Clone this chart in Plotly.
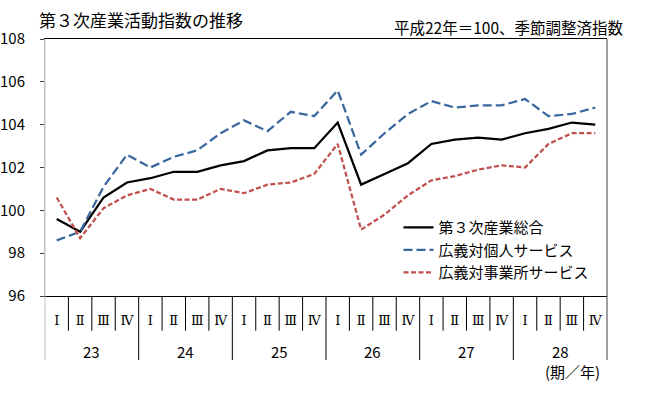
import plotly.graph_objects as go

years = ["23", "24", "25", "26", "27", "28"]
quarters = ["Ⅰ", "Ⅱ", "Ⅲ", "Ⅳ"]
total = [99.6, 99.0, 100.6, 101.3, 101.5, 101.8, 101.8, 102.1, 102.3, 102.8, 102.9, 102.9,
         104.1, 101.2, 101.7, 102.2, 103.1, 103.3, 103.4, 103.3, 103.6, 103.8, 104.1, 104.0]
personal = [98.6, 99.0, 101.1, 102.6, 102.0, 102.5, 102.8, 103.6, 104.2, 103.7, 104.6, 104.4,
            105.6, 102.6, 103.6, 104.5, 105.1, 104.8, 104.9, 104.9, 105.2, 104.4, 104.5, 104.8]
business = [100.6, 98.7, 100.1, 100.7, 101.0, 100.5, 100.5, 101.0, 100.8, 101.2, 101.3, 101.7,
            103.1, 99.1, 99.8, 100.7, 101.4, 101.6, 101.9, 102.1, 102.0, 103.1, 103.6, 103.6]
series_names = ["第３次産業総合", "広義対個人サービス", "広義対事業所サービス"]
y_ticks = [96, 98, 100, 102, 104, 106, 108]

n = len(years) * len(quarters)
xs = list(range(n))
qlabels = [quarters[i % 4] for i in xs]

JP = "Noto Sans CJK JP, Noto Sans, sans-serif"

fig = go.Figure()
fig.add_trace(go.Scatter(x=xs, y=total, mode="lines", name=series_names[0],
                         line=dict(color="#000000", width=2.25)))
fig.add_trace(go.Scatter(x=xs, y=personal, mode="lines", name=series_names[1],
                         line=dict(color="#3a679e", width=2.25, dash="9px,4px")))
fig.add_trace(go.Scatter(x=xs, y=business, mode="lines", name=series_names[2],
                         line=dict(color="#c0504d", width=2.25, dash="5px,2.5px")))

shapes = []
# separators between quarters / years below the axis
for k in range(1, n):
    long_ = (k % 4 == 0)
    shapes.append(dict(type="line", xref="x", yref="paper", x0=k - 0.5, x1=k - 0.5,
                       y0=0, y1=-0.249 if long_ else -0.135,
                       line=dict(color="#000000", width=1)))
# left / right frame extensions
shapes.append(dict(type="line", xref="paper", yref="paper", x0=0, x1=0, y0=-0.249, y1=1,
                   line=dict(color="#bfbfbf", width=1)))
shapes.append(dict(type="line", xref="paper", yref="paper", x0=1, x1=1, y0=-0.249, y1=1,
                   line=dict(color="#404040", width=1)))

annotations = []
for yi, yr in enumerate(years):
    annotations.append(dict(text=yr, xref="x", yref="paper", x=yi * 4 + 1.5, y=-0.217,
                            xanchor="center", yanchor="middle", showarrow=False,
                            font=dict(family=JP, size=15, color="#000000")))
annotations.append(dict(text="第３次産業活動指数の推移", xref="paper", yref="paper",
                        x=-0.014, y=1.074, xanchor="left", yanchor="middle", showarrow=False,
                        font=dict(family=JP, size=17, color="#000000")))
annotations.append(dict(text="平成22年＝100、季節調整済指数", xref="paper", yref="paper",
                        x=1.034, y=1.047, xanchor="right", yanchor="middle", showarrow=False,
                        font=dict(family=JP, size=15.5, color="#000000")))
annotations.append(dict(text="(期／年)", xref="paper", yref="paper",
                        x=0.991, y=-0.292, xanchor="right", yanchor="middle", showarrow=False,
                        font=dict(family=JP, size=15, color="#000000")))

fig.update_layout(
    width=670, height=395,
    margin=dict(l=45, r=63, t=39, b=99, autoexpand=False),
    paper_bgcolor="white", plot_bgcolor="white",
    font=dict(family=JP, size=15, color="#000000"),
    showlegend=True,
    legend=dict(x=0.629, y=0.33, xanchor="left", yanchor="top",
                bgcolor="rgba(0,0,0,0)", font=dict(family=JP, size=15),
                itemwidth=30),
    xaxis=dict(range=[-0.5, n - 0.5], tickvals=xs, ticktext=qlabels, automargin=False,
               showgrid=False, zeroline=False, showline=True, linecolor="#000000",
               linewidth=1, mirror=True, ticks="", ticklabelstandoff=12,
               tickfont=dict(family="DejaVu Serif, Noto Sans CJK JP, serif", size=13)),
    yaxis=dict(range=[96, 108], tickvals=y_ticks, showgrid=False, zeroline=False,
               automargin=False,
               showline=True, linecolor="#bfbfbf", linewidth=1, ticks="outside",
               ticklen=4, tickcolor="#404040", ticklabelstandoff=12,
               tickfont=dict(family=JP, size=15)),
    shapes=shapes, annotations=annotations,
)

fig.write_html("out.html", config={"displayModeBar": False},
               post_script="document.body.style.margin='0px';")
